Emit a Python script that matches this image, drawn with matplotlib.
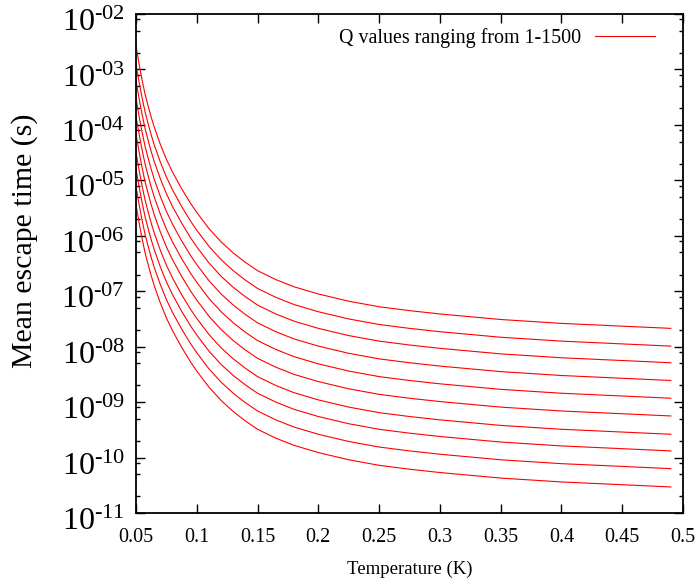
import numpy as np
import matplotlib
matplotlib.use("Agg")
import matplotlib.pyplot as plt
from matplotlib.ticker import LogLocator, FixedLocator, NullFormatter, FuncFormatter
from matplotlib.transforms import ScaledTranslation

plt.rcParams['font.family'] = ['Liberation Serif', 'DejaVu Serif']
plt.rcParams['mathtext.fontset'] = 'custom'
plt.rcParams['mathtext.rm'] = 'Liberation Serif'
plt.rcParams['mathtext.it'] = 'Liberation Serif:italic'

# Temperature samples (K)
temperature = [0.05, 0.0525, 0.055, 0.0575, 0.06, 0.0625, 0.065, 0.07, 0.075, 0.08,
               0.0875, 0.095, 0.1, 0.11, 0.12, 0.13, 0.14, 0.15, 0.165, 0.18,
               0.2, 0.225, 0.25, 0.275, 0.3, 0.35, 0.4, 0.45, 0.49]

# log10 of mean escape time (s) for the 10 curves (top to bottom)
log_tau_q1 = [-2.58, -2.90, -3.19, -3.45, -3.66, -3.86, -4.04, -4.35, -4.62, -4.85, -5.15, -5.42, -5.58, -5.87, -6.11, -6.31, -6.48, -6.63, -6.79, -6.92, -7.05, -7.18, -7.28, -7.35, -7.41, -7.51, -7.58, -7.63, -7.67]
log_tau_q2 = [-2.90, -3.22, -3.51, -3.77, -3.98, -4.18, -4.36, -4.67, -4.94, -5.17, -5.47, -5.74, -5.90, -6.19, -6.43, -6.63, -6.80, -6.95, -7.11, -7.24, -7.37, -7.50, -7.60, -7.67, -7.73, -7.83, -7.90, -7.95, -7.99]
log_tau_q3 = [-3.20, -3.52, -3.81, -4.07, -4.28, -4.48, -4.66, -4.97, -5.24, -5.47, -5.77, -6.04, -6.20, -6.49, -6.73, -6.93, -7.10, -7.25, -7.41, -7.54, -7.67, -7.80, -7.90, -7.97, -8.03, -8.13, -8.20, -8.25, -8.29]
log_tau_q4 = [-3.52, -3.84, -4.13, -4.39, -4.60, -4.80, -4.98, -5.29, -5.56, -5.79, -6.09, -6.36, -6.52, -6.81, -7.05, -7.25, -7.42, -7.57, -7.73, -7.86, -7.99, -8.12, -8.22, -8.29, -8.35, -8.45, -8.52, -8.57, -8.61]
log_tau_q5 = [-3.84, -4.16, -4.45, -4.71, -4.92, -5.12, -5.30, -5.61, -5.88, -6.11, -6.41, -6.68, -6.84, -7.13, -7.37, -7.57, -7.74, -7.89, -8.05, -8.18, -8.31, -8.44, -8.54, -8.61, -8.67, -8.77, -8.84, -8.89, -8.93]
log_tau_q6 = [-4.16, -4.48, -4.77, -5.03, -5.24, -5.44, -5.62, -5.93, -6.20, -6.43, -6.73, -7.00, -7.16, -7.45, -7.69, -7.89, -8.06, -8.21, -8.37, -8.50, -8.63, -8.76, -8.86, -8.93, -8.99, -9.09, -9.16, -9.21, -9.25]
log_tau_q7 = [-4.49, -4.81, -5.10, -5.36, -5.57, -5.77, -5.95, -6.26, -6.53, -6.76, -7.06, -7.33, -7.49, -7.78, -8.02, -8.22, -8.39, -8.54, -8.70, -8.83, -8.96, -9.09, -9.19, -9.26, -9.32, -9.42, -9.49, -9.54, -9.58]
log_tau_q8 = [-4.79, -5.11, -5.40, -5.66, -5.87, -6.07, -6.25, -6.56, -6.83, -7.06, -7.36, -7.63, -7.79, -8.08, -8.32, -8.52, -8.69, -8.84, -9.00, -9.13, -9.26, -9.39, -9.49, -9.56, -9.62, -9.72, -9.79, -9.84, -9.88]
log_tau_q9 = [-5.11, -5.43, -5.72, -5.98, -6.19, -6.39, -6.57, -6.88, -7.15, -7.38, -7.68, -7.95, -8.11, -8.40, -8.64, -8.84, -9.01, -9.16, -9.32, -9.45, -9.58, -9.71, -9.81, -9.88, -9.94, -10.04, -10.11, -10.16, -10.20]
log_tau_q10 = [-5.44, -5.76, -6.05, -6.31, -6.52, -6.72, -6.90, -7.21, -7.48, -7.71, -8.01, -8.28, -8.44, -8.73, -8.97, -9.17, -9.34, -9.49, -9.65, -9.78, -9.91, -10.04, -10.14, -10.21, -10.27, -10.37, -10.44, -10.49, -10.53]

curves = [log_tau_q1, log_tau_q2, log_tau_q3, log_tau_q4, log_tau_q5,
          log_tau_q6, log_tau_q7, log_tau_q8, log_tau_q9, log_tau_q10]

x_ticks = [0.05, 0.1, 0.15, 0.2, 0.25, 0.3, 0.35, 0.4, 0.45, 0.5]
x_tick_labels = ["0.05", "0.1", "0.15", "0.2", "0.25", "0.3", "0.35", "0.4", "0.45", "0.5"]
y_exponents = [-11, -10, -9, -8, -7, -6, -5, -4, -3, -2]

legend_label = "Q values ranging from 1-1500"

fig = plt.figure(figsize=(6.97, 5.81), dpi=100)
ax = fig.add_axes([136/697, 1-513/581, (683-136)/697, (513-14)/581])

t = np.array(temperature)
for i, c in enumerate(curves):
    ax.plot(t, 10.0**np.array(c), color='#ff0000', lw=0.8,
            label=legend_label if i == 0 else None)

ax.set_yscale('log')
ax.set_xlim(0.05, 0.5)
ax.set_ylim(1e-11, 1e-2)

ax.set_xticks(x_ticks)
ax.set_xticklabels(x_tick_labels, fontsize=14.5)
ax.yaxis.set_major_locator(FixedLocator([10.0**e for e in y_exponents]))
ax.yaxis.set_major_formatter(FuncFormatter(
    lambda v, p: r'$10^{\text{%s%02d}}$' % ('-' if v < 1 else '', abs(int(round(np.log10(v)))))))
ax.yaxis.set_minor_locator(LogLocator(base=10, subs=[2.0, 5.0, 8.0], numticks=50))
ax.yaxis.set_minor_formatter(NullFormatter())

ax.tick_params(axis='both', which='both', direction='in', top=True, right=True, width=1.0)
ax.tick_params(axis='both', which='major', length=6.5)
ax.tick_params(axis='y', which='minor', length=3)
ax.tick_params(axis='x', which='major', pad=11)
ax.tick_params(axis='y', which='major', pad=8, labelsize=23)
shift = ScaledTranslation(0, -0.06, fig.dpi_scale_trans)
for lab in ax.get_yticklabels():
    lab.set_transform(lab.get_transform() + shift)
for s in ax.spines.values():
    s.set_linewidth(1.3)

ax.set_xlabel("Temperature (K)", fontsize=13.5, labelpad=10)
ax.set_ylabel("Mean escape time (s)", fontsize=21.5)
ax.yaxis.set_label_coords((38-136)/547, (513-241)/499)

leg = ax.legend(loc='upper right', frameon=False, markerfirst=False, fontsize=14.4,
                handlelength=3.0, handletextpad=0.7, borderaxespad=0.3,
                bbox_to_anchor=(1-14/547, 1.0))

fig.savefig("out.png", dpi=100)
